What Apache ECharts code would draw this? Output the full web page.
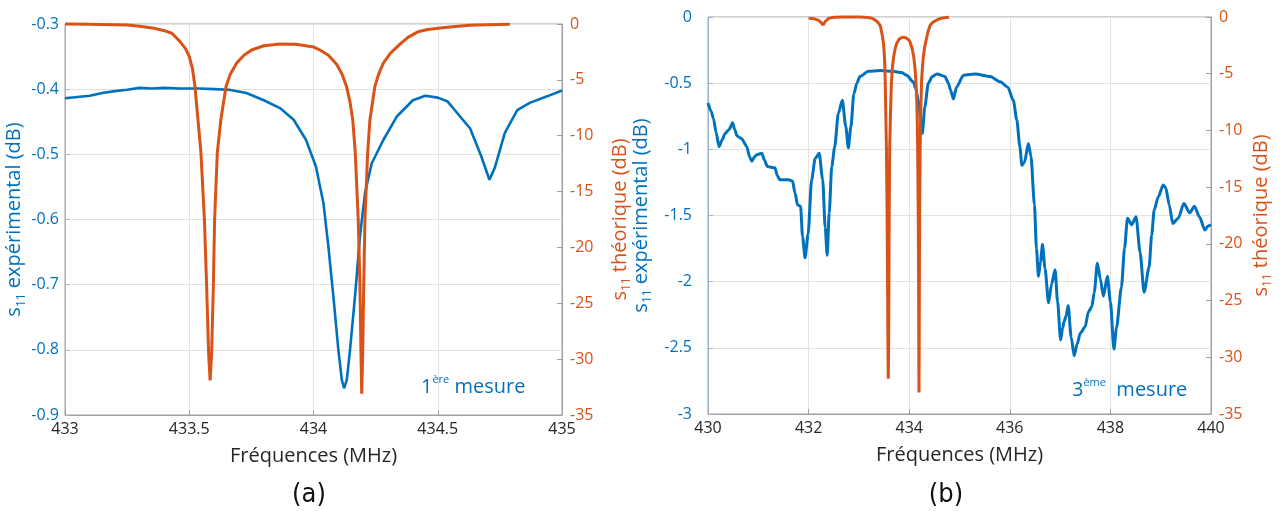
<!DOCTYPE html>
<html><head><meta charset="utf-8">
<script src="https://cdn.jsdelivr.net/npm/echarts@6/dist/echarts.min.js"></script>
<style>html,body{margin:0;padding:0;background:#fff}#c{width:1280px;height:511px}</style>
</head><body><div id="c"></div>
<script>
// ---------- Panel (a): 1ère mesure ----------
const aExpFreq = [433.00,433.05,433.10,433.15,433.20,433.25,433.30,433.35,433.40,433.46,433.54,433.60,433.66,433.73,433.80,433.865,433.92,433.97,434.01,434.04,434.06,434.08,434.10,434.114,434.123,434.134,434.147,434.167,434.187,434.207,434.234,434.281,434.335,434.40,434.45,434.50,434.54,434.59,434.63,434.675,434.708,434.73,434.77,434.82,434.87,434.94,435.00];
const aExpVal  = [-0.414,-0.412,-0.410,-0.406,-0.403,-0.401,-0.398,-0.399,-0.398,-0.399,-0.399,-0.400,-0.401,-0.406,-0.417,-0.429,-0.447,-0.478,-0.519,-0.575,-0.642,-0.718,-0.800,-0.846,-0.859,-0.846,-0.800,-0.718,-0.626,-0.560,-0.514,-0.478,-0.442,-0.417,-0.410,-0.413,-0.419,-0.442,-0.460,-0.503,-0.539,-0.520,-0.467,-0.432,-0.421,-0.411,-0.402];

// theoretical curve (same in both panels, 433 → 434.79 MHz)
const thFreq = [433.00,433.10,433.20,433.25,433.30,433.36,433.40,433.43,433.463,433.485,433.50,433.513,433.523,433.547,433.561,433.570,433.578,433.584,433.590,433.597,433.602,433.613,433.627,433.648,433.665,433.691,433.72,433.751,433.80,433.865,433.93,434.00,434.026,434.06,434.093,434.115,434.133,434.147,434.158,434.168,434.180,434.187,434.191,434.194,434.198,434.202,434.207,434.218,434.227,434.247,434.262,434.281,434.31,434.348,434.38,434.42,434.46,434.51,434.57,434.63,434.70,434.79];
const thVal  = [0,-0.02,-0.06,-0.10,-0.20,-0.39,-0.60,-0.83,-1.58,-2.2,-2.9,-4.0,-5.6,-11.5,-17.5,-23.5,-29.5,-31.9,-29.5,-23.5,-17.5,-11.5,-8.6,-5.6,-4.5,-3.5,-2.8,-2.33,-1.95,-1.79,-1.82,-2.05,-2.33,-2.8,-3.6,-4.5,-5.6,-7.0,-8.6,-11.5,-17.5,-23.5,-29.5,-33.1,-29.5,-23.5,-17.5,-11.5,-8.6,-5.6,-4.5,-3.5,-2.6,-1.8,-1.2,-0.7,-0.5,-0.36,-0.22,-0.12,-0.06,-0.03];

// ---------- Panel (b): 3ème mesure ----------
const bExpFreq = [430.00,430.06,430.11,430.16,430.22,430.28,430.34,430.42,430.49,430.53,430.58,430.67,430.77,430.83,430.87,430.92,430.97,431.07,431.12,431.18,431.33,431.38,431.43,431.60,431.68,431.73,431.78,431.84,431.88,431.93,431.99,432.06,432.13,432.21,432.28,432.33,432.37,432.41,432.46,432.52,432.59,432.67,432.74,432.79,432.84,432.90,432.96,433.02,433.19,433.42,433.68,433.85,433.95,434.08,434.13,434.18,434.26,434.31,434.38,434.46,434.55,434.71,434.78,434.82,434.88,434.94,435.08,435.31,435.61,435.81,435.96,436.07,436.14,436.20,436.24,436.29,436.37,436.42,436.49,436.53,436.57,436.61,436.65,436.70,436.77,436.83,436.90,436.95,437.01,437.05,437.08,437.12,437.16,437.22,437.28,437.34,437.40,437.50,437.56,437.63,437.68,437.74,437.80,437.86,437.94,438.00,438.07,438.12,438.22,438.28,438.34,438.42,438.51,438.59,438.67,438.77,438.82,438.87,438.95,439.05,439.10,439.17,439.24,439.35,439.46,439.58,439.67,439.77,439.88,439.94,440.00];
const bExpVal  = [-0.65,-0.71,-0.77,-0.87,-0.98,-0.93,-0.88,-0.85,-0.80,-0.85,-0.90,-0.92,-0.98,-1.06,-1.09,-1.06,-1.04,-1.03,-1.08,-1.13,-1.14,-1.20,-1.23,-1.23,-1.24,-1.33,-1.42,-1.43,-1.66,-1.82,-1.64,-1.23,-1.07,-1.03,-1.23,-1.59,-1.80,-1.48,-1.13,-0.98,-0.73,-0.63,-0.83,-0.99,-0.83,-0.58,-0.50,-0.45,-0.41,-0.405,-0.41,-0.42,-0.44,-0.49,-0.54,-0.63,-0.88,-0.68,-0.50,-0.45,-0.43,-0.45,-0.50,-0.55,-0.62,-0.53,-0.44,-0.43,-0.45,-0.49,-0.53,-0.63,-0.78,-0.98,-1.12,-1.10,-0.955,-1.05,-1.42,-1.75,-1.96,-1.85,-1.72,-1.90,-2.16,-2.02,-1.91,-2.15,-2.44,-2.35,-2.30,-2.26,-2.18,-2.42,-2.56,-2.47,-2.39,-2.34,-2.23,-2.19,-2.08,-1.86,-1.98,-2.11,-1.96,-2.15,-2.51,-2.35,-2.04,-1.75,-1.52,-1.57,-1.51,-1.78,-2.08,-1.89,-1.65,-1.46,-1.36,-1.27,-1.29,-1.42,-1.56,-1.52,-1.41,-1.48,-1.43,-1.51,-1.61,-1.58,-1.57];

// extra low-frequency part of the theoretical curve visible in panel (b)
const thLowFreq = [432.00,432.10,432.20,432.25,432.29,432.33,432.40,432.50,432.70,432.90];
const thLowVal  = [-0.10,-0.15,-0.30,-0.50,-0.70,-0.40,-0.12,-0.03,0,0];

const BLUE = '#0072BD', ORANGE = '#D95319', DARK = '#262626';
const FONT = '"Open Sans","Noto Sans",sans-serif';
const pairs = (xs, ys) => xs.map((x, i) => [x, ys[i]]);

function yAxisCfg(grid, side, min, max, interval, name, color, gap, labelMargin, lineColor) {
  return {
    type: 'value', gridIndex: grid, position: side, min, max, interval,
    name, nameLocation: 'middle', nameRotate: 90, nameGap: gap,
    nameTextStyle: { color, fontFamily: FONT, fontSize: 20, lineHeight: 26,
      rich: { sub: { fontSize: 12, color, fontFamily: FONT, lineHeight: 12, verticalAlign: 'bottom' },
              s: { fontSize: 20, color, fontFamily: FONT, lineHeight: 26 } } },
    axisLine: { show: true, onZero: false, lineStyle: { color: lineColor, width: 1 } },
    axisTick: { show: true, inside: true, length: 5, lineStyle: { color: lineColor } },
    axisLabel: { color, fontFamily: FONT, fontSize: 16, margin: labelMargin },
    splitLine: { show: side === 'left', lineStyle: { color: '#e2e2e2', width: 1 } }
  };
}
function xAxisCfg(grid, min, max, interval) {
  return {
    type: 'value', gridIndex: grid, min, max, interval,
    name: 'Fréquences (MHz)', nameLocation: 'middle', nameGap: 31,
    nameTextStyle: { color: DARK, fontFamily: FONT, fontSize: 20 },
    axisLine: { show: true, onZero: false, lineStyle: { color: '#a0a0a0', width: 1 } },
    axisTick: { show: true, inside: true, length: 5, lineStyle: { color: '#a0a0a0' } },
    axisLabel: { color: DARK, fontFamily: FONT, fontSize: 16, margin: 6 },
    splitLine: { show: true, lineStyle: { color: '#e2e2e2', width: 1 } }
  };
}

const chart = echarts.init(document.getElementById('c'), null, { renderer: 'canvas' });
chart.setOption({
  animation: false,
  backgroundColor: '#fff',
  grid: [
    { left: 65, top: 24, width: 497, height: 391, show: true, borderColor: '#a0a0a0', borderWidth: 1, backgroundColor: 'transparent' },
    { left: 708, top: 17, width: 503, height: 397, show: true, borderColor: '#a0a0a0', borderWidth: 1, backgroundColor: 'transparent' }
  ],
  xAxis: [ xAxisCfg(0, 433, 435, 0.5), xAxisCfg(1, 430, 440, 2) ],
  yAxis: [
    yAxisCfg(0, 'left', -0.9, -0.3, 0.1, '{s|s}{sub|11} expérimental (dB)', BLUE, 34, 6, '#9db5cc'),
    yAxisCfg(0, 'right', -35, 0, 5, '{s|s}{sub|11} théorique (dB)', ORANGE, 45, 8, '#a0a0a0'),
    yAxisCfg(1, 'left', -3, 0, 0.5, '{s|s}{sub|11} expérimental (dB)', BLUE, 54, 16, '#9db5cc'),
    yAxisCfg(1, 'right', -35, 0, 5, '{s|s}{sub|11} théorique (dB)', ORANGE, 37, 8, '#a0a0a0')
  ],
  series: [
    { type: 'line', xAxisIndex: 0, yAxisIndex: 0, data: pairs(aExpFreq, aExpVal), showSymbol: false,
      lineStyle: { color: BLUE, width: 2.6 }, z: 2 },
    { type: 'line', xAxisIndex: 0, yAxisIndex: 1, data: pairs(thFreq, thVal), showSymbol: false, clip: false,
      lineStyle: { color: ORANGE, width: 3 }, z: 3 },
    { type: 'line', xAxisIndex: 1, yAxisIndex: 2, data: pairs(bExpFreq, bExpVal), showSymbol: false,
      smooth: 0.25, smoothMonotone: 'x', lineStyle: { color: BLUE, width: 3 }, z: 2 },
    { type: 'line', xAxisIndex: 1, yAxisIndex: 3, data: pairs(thLowFreq.concat(thFreq), thLowVal.concat(thVal)), showSymbol: false, clip: false,
      lineStyle: { color: ORANGE, width: 3 }, z: 3 }
  ],
  graphic: [
    { type: 'text', x: 421, y: 387, z: 10, style: {
        text: '{n|1}{s|ère}{m| mesure}', align: 'left', verticalAlign: 'middle',
        rich: { n: { fontSize: 20, fill: BLUE, fontFamily: FONT, lineHeight: 26 },
                s: { fontSize: 11, fill: BLUE, fontFamily: FONT, lineHeight: 14, verticalAlign: 'top' },
                m: { fontSize: 20, fill: BLUE, fontFamily: FONT, lineHeight: 26 } } } },
    { type: 'text', x: 1072, y: 390, z: 10, style: {
        text: '{n|3}{s|ème}{m|  mesure}', align: 'left', verticalAlign: 'middle',
        rich: { n: { fontSize: 20, fill: BLUE, fontFamily: FONT, lineHeight: 26 },
                s: { fontSize: 11, fill: BLUE, fontFamily: FONT, lineHeight: 14, verticalAlign: 'top' },
                m: { fontSize: 20, fill: BLUE, fontFamily: FONT, lineHeight: 26 } } } },
    { type: 'text', x: 309, y: 495, style: { text: '(a)', fill: '#111', font: '27px "DejaVu Sans Condensed","Liberation Sans Narrow",sans-serif', align: 'center', verticalAlign: 'middle' } },
    { type: 'text', x: 946, y: 495, style: { text: '(b)', fill: '#111', font: '27px "DejaVu Sans Condensed","Liberation Sans Narrow",sans-serif', align: 'center', verticalAlign: 'middle' } }
  ]
});
</script>
</body></html>
